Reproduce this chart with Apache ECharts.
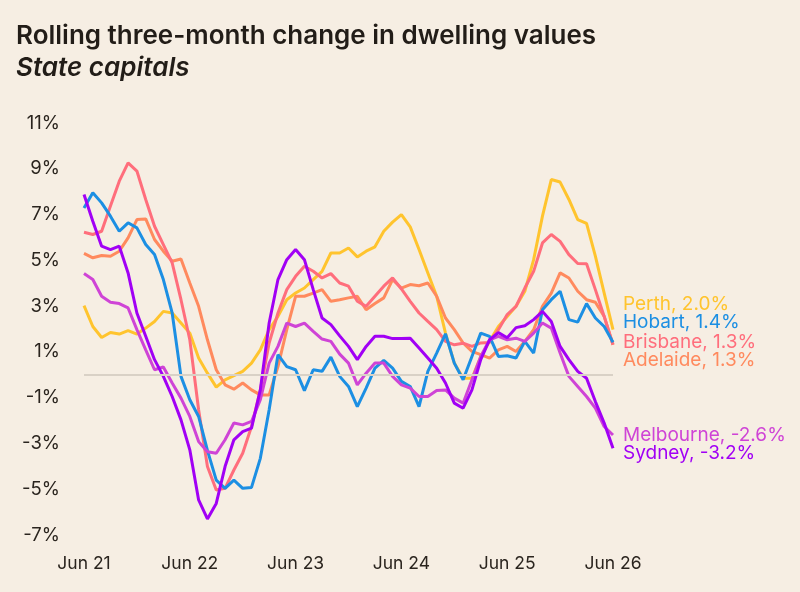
<!DOCTYPE html>
<html>
<head>
<meta charset="utf-8">
<script src="https://cdn.jsdelivr.net/npm/echarts@6/dist/echarts.min.js"></script>
<style>
  html, body { margin: 0; padding: 0; background: #f6eee3; }
  #chart { width: 800px; height: 592px; }
</style>
</head>
<body>
<div id="chart"></div>
<script>
const months = [
  'Jun 21','Jul 21','Aug 21','Sep 21','Oct 21','Nov 21','Dec 21','Jan 22','Feb 22','Mar 22','Apr 22','May 22',
  'Jun 22','Jul 22','Aug 22','Sep 22','Oct 22','Nov 22','Dec 22','Jan 23','Feb 23','Mar 23','Apr 23','May 23',
  'Jun 23','Jul 23','Aug 23','Sep 23','Oct 23','Nov 23','Dec 23','Jan 24','Feb 24','Mar 24','Apr 24','May 24',
  'Jun 24','Jul 24','Aug 24','Sep 24','Oct 24','Nov 24','Dec 24','Jan 25','Feb 25','Mar 25','Apr 25','May 25',
  'Jun 25','Jul 25','Aug 25','Sep 25','Oct 25','Nov 25','Dec 25','Jan 26','Feb 26','Mar 26','Apr 26','May 26',
  'Jun 26'
];

const perth = [3.02, 2.11, 1.63, 1.85, 1.78, 1.93, 1.78, 2.04, 2.33, 2.77, 2.70, 2.26, 1.82, 0.73, 0.07,
  -0.54, -0.22, -0.04, 0.15, 0.51, 1.09, 1.97, 2.55, 3.28, 3.57, 3.79, 4.16, 4.52, 5.32, 5.32,
  5.54, 5.15, 5.40, 5.59, 6.27, 6.67, 7.00, 6.46, 5.47, 4.45, 3.43, 1.82, 0.51, -0.15, -0.15,
  0.80, 1.46, 2.11, 2.55, 2.99, 3.65, 5.03, 6.93, 8.53, 8.42, 7.66, 6.78, 6.61, 5.18, 3.57, 1.97];

const hobart = [7.29, 7.95, 7.51, 6.93, 6.27, 6.64, 6.42, 5.69, 5.25, 4.16, 2.70, -0.07, -1.09, -1.82, -3.3,
  -4.60, -4.96, -4.60, -4.96, -4.92, -3.65, -1.53, 0.88, 0.36, 0.22, -0.69, 0.22, 0.15, 0.77, -0.07,
  -0.51, -1.39, -0.58, 0.29, 0.63, 0.29, -0.29, -0.51, -1.39, 0.15, 0.95, 1.79, 0.51, -0.22, 0.8,
  1.82, 1.68, 0.80, 0.83, 0.73, 1.46, 0.95, 2.84, 3.28, 3.65, 2.41, 2.30, 3.11, 2.48, 2.11, 1.42];

const brisbane = [6.23, 6.13, 6.27, 7.37, 8.46, 9.26, 8.90, 7.66, 6.49, 5.69, 4.89, 3.28, 1.53, -1.53, -4.01,
  -5.03, -4.96, -4.16, -3.43, -2.26, -0.66, 1.39, 2.70, 3.72, 4.30, 4.74, 4.52, 4.23, 4.42, 4.01,
  3.87, 3.21, 2.99, 3.43, 3.87, 4.23, 3.75, 3.21, 2.70, 2.33, 1.97, 1.46, 1.31, 1.38, 1.24,
  1.39, 1.41, 1.97, 2.63, 2.99, 3.79, 4.52, 5.76, 6.13, 5.83, 5.25, 4.86, 4.85, 3.72, 2.55, 1.31];

const adelaide = [5.30, 5.11, 5.21, 5.18, 5.40, 5.98, 6.78, 6.81, 5.91, 5.40, 4.96, 5.06, 4.01, 2.99, 1.53,
  0.22, -0.44, -0.63, -0.36, -0.66, -0.88, -0.88, 0.36, 1.97, 3.43, 3.43, 3.57, 3.72, 3.21, 3.28,
  3.36, 3.43, 2.84, 3.11, 3.36, 4.16, 3.79, 3.94, 3.89, 4.01, 3.43, 2.48, 1.97, 1.39, 1.02,
  0.88, 0.73, 1.09, 1.24, 1.02, 1.46, 1.97, 2.99, 3.57, 4.45, 4.23, 3.65, 3.28, 3.17, 2.55, 1.31];

const melbourne = [4.42, 4.16, 3.43, 3.17, 3.11, 2.92, 1.97, 1.09, 0.22, 0.34, -0.36, -1.02, -1.82, -2.92, -3.36,
  -3.43, -2.84, -2.11, -2.19, -2.04, -1.09, 0.51, 1.24, 2.26, 2.11, 2.26, 1.90, 1.56, 1.46, 0.9,
  0.51, -0.44, 0.07, 0.51, 0.51, -0.07, -0.44, -0.58, -0.95, -0.95, -0.69, -0.66, -1.02, -1.24, -0.22,
  0.80, 1.53, 1.68, 1.53, 1.60, 1.46, 1.82, 2.26, 2.04, 0.95, -0.07, -0.51, -0.95, -1.46, -2.26, -2.63];

const sydney = [7.88, 6.71, 5.62, 5.47, 5.62, 4.45, 2.70, 1.68, 0.66, -0.07, -0.95, -1.97, -3.28, -5.47, -6.30,
  -5.62, -4.01, -2.84, -2.48, -2.33, -0.66, 2.26, 4.16, 5.03, 5.47, 5.03, 3.72, 2.48, 2.19, 1.7,
  1.24, 0.66, 1.24, 1.68, 1.68, 1.58, 1.58, 1.60, 1.17, 0.73, 0.29, -0.36, -1.24, -1.46, -0.66,
  0.66, 1.53, 1.84, 1.62, 2.06, 2.14, 2.41, 2.77, 2.33, 1.24, 0.66, 0.15, -0.15, -1.17, -2.11, -3.21];

const yTicks = { min: -7, max: 11, step: 2 };

const font = 'Inter, "Noto Sans", sans-serif';

function line(name, data, color, dy) {
  return {
    name: name,
    type: 'line',
    data: data,
    symbol: 'none',
    z: 3,
    lineStyle: { color: color, width: 3 },
    itemStyle: { color: color },
    endLabel: {
      show: true,
      distance: 10,
      offset: [0, dy],
      color: color,
      fontFamily: font,
      fontSize: 19,
      formatter: p => p.seriesName + ', ' + p.value.toFixed(1) + '%'
    }
  };
}

const chart = echarts.init(document.getElementById('chart'));
chart.setOption({
  backgroundColor: '#f6eee3',
  animation: false,
  title: [
    {
      text: 'Rolling three-month change in dwelling values',
      left: 11, top: 18,
      textStyle: { fontFamily: font, fontSize: 26, fontWeight: 600, color: '#221d18' }
    },
    {
      text: 'State capitals',
      left: 11, top: 50,
      textStyle: { fontFamily: font, fontSize: 26, fontWeight: 600, fontStyle: 'italic', color: '#221d18' }
    }
  ],
  grid: { left: 84, right: 187, top: 123, bottom: 57, containLabel: false },
  xAxis: {
    type: 'category',
    data: months,
    boundaryGap: false,
    axisLine: { show: false },
    axisTick: { show: false },
    splitLine: { show: false },
    axisLabel: {
      interval: 11,
      margin: 20,
      color: '#2a241e',
      fontFamily: font,
      fontSize: 17.5
    }
  },
  yAxis: {
    type: 'value',
    min: yTicks.min,
    max: yTicks.max,
    interval: yTicks.step,
    axisLine: { show: false },
    axisTick: { show: false },
    splitLine: { show: false },
    axisLabel: {
      margin: 24,
      color: '#2a241e',
      fontFamily: font,
      fontSize: 18.5,
      formatter: v => v + '%'
    }
  },
  series: [
    {
      type: 'line',
      data: [],
      z: 1,
      markLine: {
        silent: true,
        symbol: 'none',
        label: { show: false },
        lineStyle: { color: '#d9d1c6', width: 2, type: 'solid' },
        data: [{ yAxis: 0 }]
      }
    },
    line('Perth', perth, '#ffc42e', -25),
    line('Adelaide', adelaide, '#ff8a5e', 15),
    line('Brisbane', brisbane, '#ff6e7c', -3),
    line('Hobart', hobart, '#1c8fe3', -20),
    line('Melbourne', melbourne, '#cf44d6', 0),
    line('Sydney', sydney, '#a100f5', 5)
  ]
});
</script>
</body>
</html>
